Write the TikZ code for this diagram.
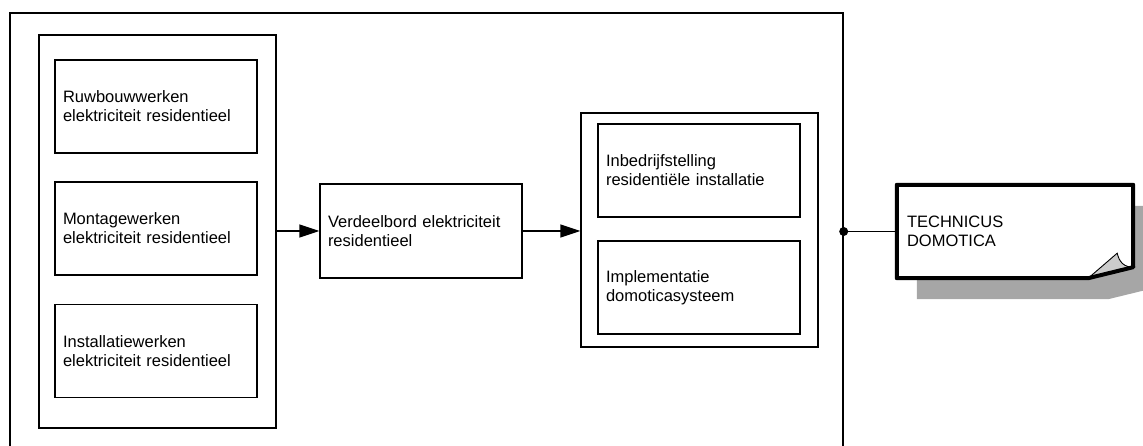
\documentclass[tikz,border=0pt]{standalone}
\usepackage{fontspec}
\setmainfont{Liberation Sans}
\usetikzlibrary{arrows.meta,backgrounds}
\definecolor{shadowgray}{HTML}{A6A6A6}
\definecolor{foldgray}{HTML}{CCCCCC}
\begin{document}
\begin{tikzpicture}[x=1pt,y=-1pt,
  frame/.style={draw, line width=1.4pt, inner sep=0pt},
  item/.style={frame, minimum width=202pt, minimum height=93pt, inner xsep=8pt,
    text width=186pt, align=left, font=\fontsize{16.5pt}{19pt}\selectfont},
  arr/.style={line width=1.4pt, -{Triangle[length=20pt,width=13pt]}},
  notetext/.style={inner xsep=10pt, minimum width=236pt, minimum height=93pt,
    text width=216pt, align=left, font=\fontsize{16.5pt}{19pt}\selectfont}]
\useasboundingbox (0,0) rectangle (1143,446);
\clip (0,0) rectangle (1143,446);
% outer frame (bottom edge lies outside the picture)
\node[frame, minimum width=833pt, minimum height=457pt] (outer) at (426.5,241.5) {};
% left group
\node[frame, minimum width=237pt, minimum height=393pt] (lgroup) at (157.5,231.5) {};
\node[item] (ruw) at (156,106.5) {Ruwbouwwerken\\elektriciteit residentieel};
\node[item] (mon) at (156,228.5) {Montagewerken\\elektriciteit residentieel};
\node[item] (ins) at (156,351) {Installatiewerken\\elektriciteit residentieel};
% middle
\node[item, minimum height=94pt] (verd) at (421,231) {Verdeelbord elektriciteit\\residentieel};
% right group
\node[frame, minimum width=237pt, minimum height=234pt] (rgroup) at (699.5,230) {};
\node[item] (inb) at (699,170.5) {Inbedrijfstelling\\residentiële installatie};
\node[item] (imp) at (699,287.5) {Implementatie\\domoticasysteem};
% arrows
\draw[arr] (lgroup.east |- verd.west) -- (verd.west);
\draw[arr] (verd.east) -- (rgroup.west |- verd.east);
% note
\node[notetext] (note) at (1015,231.5) {TECHNICUS\\DOMOTICA};
\begin{scope}[on background layer]
  \clip (0,0) rectangle (1143,446);
  \fill[shadowgray] ([xshift=20pt,yshift=-21pt]note.north west)
    -- ([xshift=20pt,yshift=-21pt]note.north east)
    -- ([xshift=20pt,yshift=-10pt]note.south east)
    -- ([xshift=-25pt,yshift=-21pt]note.south east)
    -- ([xshift=20pt,yshift=-21pt]note.south west) -- cycle;
  \fill[white] (note.north west) -- (note.north east)
    -- ([yshift=11pt]note.south east) -- ([xshift=-45pt]note.south east)
    -- (note.south west) -- cycle;
\end{scope}
\filldraw[fill=foldgray, draw=black, line width=0.9pt]
  ([xshift=-45pt]note.south east) -- ([xshift=-16pt,yshift=25pt]note.south east)
  .. controls ([xshift=-14pt,yshift=16pt]note.south east) and ([xshift=-9pt,yshift=11pt]note.south east)
  .. ([yshift=11pt]note.south east) -- cycle;
\draw[line width=4pt, line join=round] (note.north west) -- (note.north east)
    -- ([yshift=11pt]note.south east) -- ([xshift=-45pt]note.south east)
    -- (note.south west) -- cycle;
% connector with dot
\coordinate (dot) at (outer.east |- note.west);
\draw[line width=1.4pt] (dot) -- (note.west);
\fill (dot) circle (4.5pt);
\end{tikzpicture}
\end{document}
